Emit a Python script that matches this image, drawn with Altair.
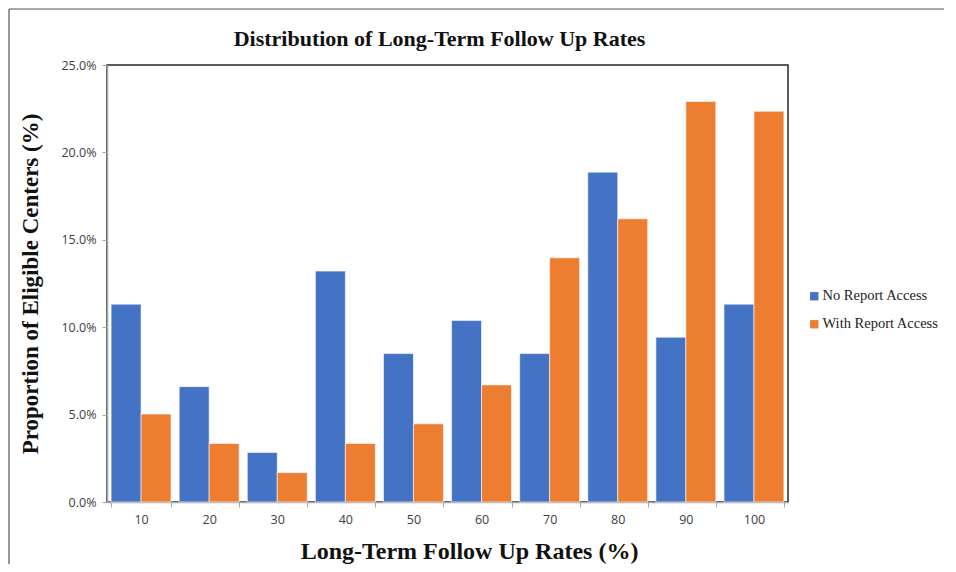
import altair as alt
import pandas as pd

categories = ["10", "20", "30", "40", "50", "60", "70", "80", "90", "100"]
no_access = [11.32, 6.60, 2.83, 13.21, 8.49, 10.38, 8.49, 18.87, 9.43, 11.32]
with_access = [5.03, 3.35, 1.68, 3.35, 4.47, 6.70, 13.97, 16.20, 22.91, 22.35]
series = ["No Report Access", "With Report Access"]
colors = ["#4472C4", "#ED7D31"]

rows = []
for c, a, b in zip(categories, no_access, with_access):
    rows.append({"rate": c, "series": series[0], "value": a / 100})
    rows.append({"rate": c, "series": series[1], "value": b / 100})
df = pd.DataFrame(rows)

bars = alt.Chart(df).mark_bar(stroke="white", strokeWidth=0.6).encode(
    x=alt.X("rate:N", sort=categories,
            scale=alt.Scale(paddingInner=0.12, paddingOuter=0.06),
            axis=alt.Axis(title="Long-Term Follow Up Rates (%)", labelAngle=0,
                          tickBand="extent", titleX=362)),
    xOffset=alt.XOffset("series:N", sort=series),
    y=alt.Y("value:Q", scale=alt.Scale(domain=[0, 0.25]),
            axis=alt.Axis(title="Proportion of Eligible Centers (%)", format=".1%",
                          values=[0, 0.05, 0.10, 0.15, 0.20, 0.25], grid=False)),
    color=alt.Color("series:N", sort=series,
                    scale=alt.Scale(domain=series, range=colors),
                    legend=alt.Legend(title=None, orient="none", legendX=700, legendY=224,
                                      symbolType="square", symbolSize=70,
                                      symbolStrokeWidth=0,
                                      labelFont="Liberation Serif", labelFontSize=14.5,
                                      labelColor="#222222", rowPadding=13, labelOffset=1)),
)

dummy = alt.Data(values=[{"a": 1}])
frame_top = alt.Chart(dummy).mark_rule(color="#555555", strokeWidth=1.2).encode(
    x=alt.value(-98), x2=alt.value(900), y=alt.value(-56))
frame_left = alt.Chart(dummy).mark_rule(color="#555555", strokeWidth=1.2).encode(
    x=alt.value(-98), y=alt.value(-56), y2=alt.value(520))

chart = alt.layer(bars, frame_top, frame_left).properties(
    width=681, height=437,
    padding={"left": 99, "top": 57, "right": 156, "bottom": 62},
    autosize=alt.AutoSizeParams(type="none"),
    title=alt.TitleParams("Distribution of Long-Term Follow Up Rates",
                          font="Liberation Serif", fontSize=22, fontWeight="bold",
                          color="#111111", offset=-43, dx=-8, anchor="middle",
                          frame="group"),
).configure_view(
    stroke="#262626", strokeWidth=1.5
).configure_axis(
    labelFont="Open Sans", labelFontSize=12.5, labelColor="#404040",
    domainColor="#A6A6A6", domainWidth=1.5, tickColor="#A6A6A6", tickSize=5,
    titleFont="Liberation Serif", titleFontWeight="bold", titleFontSize=23,
    titleColor="#111111",
).configure_axisY(
    labelPadding=6, titlePadding=18
).configure_axisX(
    labelPadding=6, titlePadding=14, titleFontSize=24
)

chart.save("out.html", embed_options={"renderer": "svg", "actions": False})
